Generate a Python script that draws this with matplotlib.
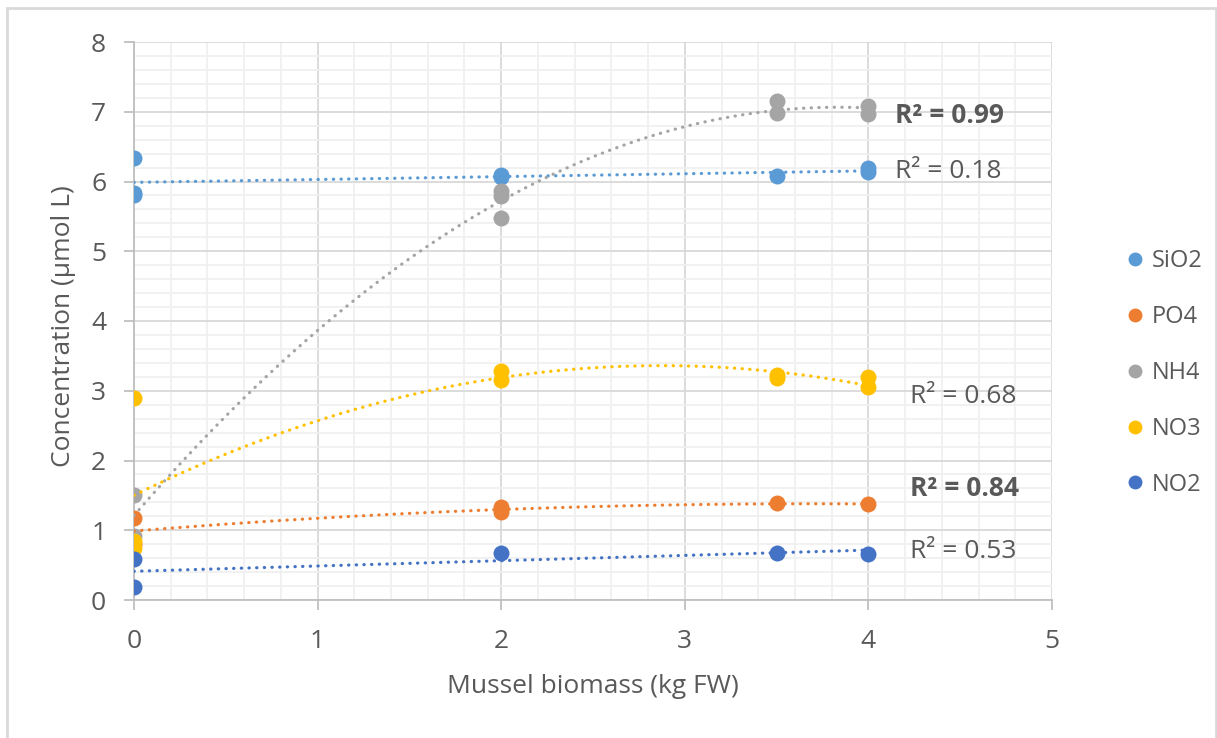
import numpy as np
import matplotlib.pyplot as plt
from matplotlib.patches import Rectangle
from matplotlib.lines import Line2D

plt.rcParams['font.family'] = ['Open Sans', 'DejaVu Sans']

# data
names = ["SiO2", "PO4", "NH4", "NO3", "NO2"]
colors = ["#5B9BD5", "#ED7D31", "#A5A5A5", "#FFC000", "#4472C4"]

sio2_x = [0, 0, 0, 2, 2, 3.5, 4, 4]
sio2_y = [6.33, 5.83, 5.80, 6.10, 6.06, 6.08, 6.20, 6.14]
po4_x = [0, 0, 2, 2, 3.5, 4]
po4_y = [1.18, 0.80, 1.33, 1.26, 1.39, 1.37]
nh4_x = [0, 0, 2, 2, 2, 3.5, 3.5, 4, 4]
nh4_y = [1.51, 0.92, 5.87, 5.79, 5.47, 7.15, 6.98, 7.08, 6.97]
no3_x = [0, 0, 0, 2, 2, 3.5, 3.5, 4, 4]
no3_y = [2.89, 0.85, 0.75, 3.29, 3.15, 3.22, 3.18, 3.19, 3.05]
no2_x = [0, 0, 2, 3.5, 4]
no2_y = [0.59, 0.18, 0.67, 0.68, 0.66]

trend_deg = [1, 2, 2, 2, 1]
r2_text = ["R² = 0.18", "R² = 0.84", "R² = 0.99", "R² = 0.68", "R² = 0.53"]
r2_bold = [False, True, True, False, False]
r2_pos = [(4.145, 6.15), (4.227, 1.60), (4.145, 6.95), (4.227, 2.92), (4.227, 0.70)]

xs = [sio2_x, po4_x, nh4_x, no3_x, no2_x]
ys = [sio2_y, po4_y, nh4_y, no3_y, no2_y]

txt = "#595959"
fig = plt.figure(figsize=(12.17, 7.38), dpi=100)
fig.patches.append(Rectangle((7 / 1217, -0.01), 1209 / 1217, 1 - 8 / 738 + 0.01,
                             transform=fig.transFigure, fill=False,
                             edgecolor="#d9d9d9", linewidth=2))
ax = fig.add_axes([134 / 1217, 1 - 600 / 738, (1052 - 134) / 1217, (600 - 42) / 738])

for x, y, c in zip(xs, ys, colors):
    ax.plot(x, y, "o", color=c, markersize=11.5, markeredgewidth=0, zorder=3)

# excel style trendlines
for x, y, c, d in zip(xs, ys, colors, trend_deg):
    coef = np.polyfit(x, y, d)
    xx = np.linspace(0, 4, 200)
    ax.plot(xx, np.polyval(coef, xx), color=c, linewidth=2.3, linestyle=(0, (0.1, 2.3)),
            dash_capstyle="round", zorder=4)

for t, b, (px, py) in zip(r2_text, r2_bold, r2_pos):
    ax.text(px, py, t, fontsize=19, color=txt, va="center", ha="left",
            fontweight="bold" if b else "normal", zorder=5)

ax.set_xlim(0, 5)
ax.set_ylim(0, 8)
ax.set_xticks(range(0, 6))
ax.set_yticks(range(0, 9))
ax.set_xticks(np.arange(0, 5.01, 0.2), minor=True)
ax.set_yticks(np.arange(0, 8.01, 0.2), minor=True)
ax.grid(which="major", color="#d9d9d9", linewidth=1.3, zorder=0)
ax.grid(which="minor", color="#f0f0f0", linewidth=1.3, zorder=0)
ax.set_axisbelow(True)
ax.tick_params(which="major", length=7, width=1.3, color="#bfbfbf", labelsize=19,
               labelcolor=txt)
ax.tick_params(axis="x", pad=14)
ax.tick_params(axis="y", pad=13)
ax.tick_params(which="minor", length=0)
for s in ["top", "right"]:
    ax.spines[s].set_visible(False)
for s in ["left", "bottom"]:
    ax.spines[s].set_color("#bfbfbf")
    ax.spines[s].set_linewidth(1.3)
ax.set_xlabel("Mussel biomass (kg FW)", fontsize=19, color=txt)
ax.set_ylabel("Concentration (µmol L)", fontsize=19, color=txt)
ax.xaxis.set_label_coords(0.5, (600 - 674) / 558)
ax.yaxis.set_label_coords((76 - 134) / 918, 0.49)

handles = [Line2D([], [], marker="o", linestyle="none", color=c, markersize=10,
                  markeredgewidth=0) for c in colors]
leg = fig.legend(handles, names, loc="center left", bbox_to_anchor=(1100 / 1217, 1 - 373 / 738),
                 frameon=False, fontsize=17, labelspacing=1.35, handletextpad=0.1,
                 handlelength=1.2)
for t in leg.get_texts():
    t.set_color(txt)

fig.savefig("out.png", dpi=100)
